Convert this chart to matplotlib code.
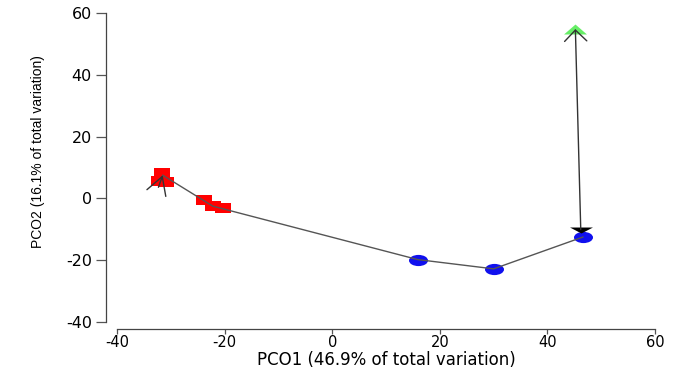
import numpy as np
import matplotlib
matplotlib.use("Agg")
import matplotlib.pyplot as plt
from matplotlib.path import Path
from matplotlib.markers import MarkerStyle
from matplotlib.patches import ArrowStyle

plt.rcParams["axes.unicode_minus"] = False

# PCO scores per sample group
red_x = [-31.6, -32.2, -30.9, -23.9, -22.2, -20.3]
red_y = [8.2, 5.6, 5.3, -0.5, -2.5, -3.1]
blue_x = [15.9, 30.0, 46.6]
blue_y = [-19.8, -22.8, -12.5]
black_x = [46.2]
black_y = [-10.1]
green_x = [45.2]
green_y = [54.8]

# trajectory through the group positions
traj_x = [-31.5, -22.2, 15.9, 30.0, 46.6]
traj_y = [7.5, -2.5, -19.8, -22.8, -12.5]
start_tail = (-32.3, 3.6)

ticks = [-40, -20, 0, 20, 40, 60]
xlabel = "PCO1 (46.9% of total variation)"
ylabel = "PCO2 (16.1% of total variation)"


def flat_marker(verts):
    return MarkerStyle(Path(np.array(verts, dtype=float), closed=True))


rect = flat_marker([(-1.6, -1), (1.6, -1), (1.6, 1), (-1.6, 1), (-1.6, -1)])
ellipse = MarkerStyle(Path.unit_circle().transformed(
    matplotlib.transforms.Affine2D().scale(1.7, 1)))
tri_up = flat_marker([(-1.15, -0.5), (1.15, -0.5), (0, 0.5), (-1.15, -0.5)])
tri_down = flat_marker([(-1, 0.26), (1, 0.26), (0, -0.26), (-1, 0.26)])

fig = plt.figure(figsize=(6.88, 3.74), dpi=100)
ax = fig.add_axes([117 / 688, 1 - 322 / 374, 538 / 688, 309 / 374])

ax.plot(red_x, red_y, ls="none", marker=rect, ms=12.2, color="#ff0000", mew=0)
ax.plot(blue_x, blue_y, ls="none", marker=ellipse, ms=13.7, color="#1010ee", mew=0)
ax.plot(green_x, green_y, ls="none", marker=tri_up, ms=16.5, color="#66ee66", mew=0)
ax.plot(black_x, black_y, ls="none", marker=tri_down, ms=16.5, color="black", mew=0)

ax.plot(traj_x, traj_y, color="#555555", lw=1.0)
ax.annotate("", xy=(traj_x[0], traj_y[0]), xytext=start_tail,
            arrowprops=dict(arrowstyle=ArrowStyle("->", head_length=1.26, head_width=0.72),
                            mutation_scale=10, color="#333333", lw=1.0,
                            shrinkA=0, shrinkB=0))
ax.annotate("", xy=(green_x[0], green_y[0]), xytext=(black_x[0], black_y[0]),
            arrowprops=dict(arrowstyle=ArrowStyle("->", head_length=0.8, head_width=0.8),
                            mutation_scale=10, color="#333333", lw=1.0,
                            shrinkA=0, shrinkB=0))

ax.set_xlim(-40, 60)
ax.set_ylim(-40, 60)
ax.set_xticks(ticks)
ax.set_yticks(ticks)

for side in ["top", "right"]:
    ax.spines[side].set_visible(False)
ax.spines["left"].set_position(("outward", 8))
ax.spines["bottom"].set_position(("outward", 5))
for side in ["left", "bottom"]:
    ax.spines[side].set_color("#444444")
    ax.spines[side].set_linewidth(0.9)

ax.tick_params(axis="y", direction="out", length=7, width=0.9, color="#555555",
               pad=3, labelsize=11.5)
ax.tick_params(axis="x", direction="out", length=3.6, width=0.9, color="#555555",
               pad=0.5, labelsize=10.5)
for lab in ax.get_xticklabels() + ax.get_yticklabels():
    lab.set_family("DejaVu Sans")

ax.set_xlabel(xlabel, fontsize=12, family="DejaVu Sans")
ax.xaxis.set_label_coords(0.5, -0.094)
ax.xaxis.label.set_va("top")
ax.set_ylabel(ylabel, fontsize=10, family=["Liberation Sans Narrow", "Liberation Sans"])
ax.yaxis.set_label_coords(-0.134, 0.55)

fig.savefig("out.png", dpi=100)
